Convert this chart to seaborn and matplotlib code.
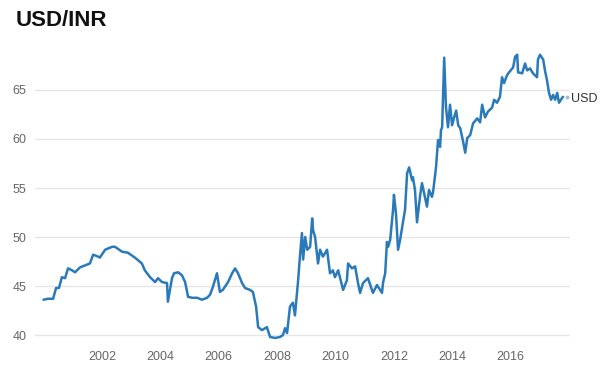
import matplotlib
matplotlib.use("Agg")
import matplotlib.pyplot as plt
import seaborn as sns
import pandas as pd

years = [2000.00, 2000.15, 2000.33, 2000.43, 2000.53, 2000.63, 2000.74, 2000.84, 2000.98,
         2001.08, 2001.25, 2001.42, 2001.59, 2001.70, 2001.87, 2001.93, 2002.11, 2002.35,
         2002.45, 2002.69, 2002.89, 2003.13, 2003.37, 2003.47, 2003.65, 2003.82, 2003.92,
         2004.06, 2004.23, 2004.26, 2004.40, 2004.47, 2004.61, 2004.74, 2004.85, 2004.95,
         2005.09, 2005.26, 2005.43, 2005.60, 2005.70, 2005.80, 2005.94, 2006.04, 2006.14,
         2006.32, 2006.46, 2006.56, 2006.66, 2006.80, 2006.90, 2007.07, 2007.17, 2007.28,
         2007.35, 2007.48, 2007.59, 2007.65, 2007.76, 2007.93, 2008.10, 2008.20, 2008.27,
         2008.34, 2008.44, 2008.54, 2008.61, 2008.72, 2008.78, 2008.85, 2008.89, 2008.96,
         2009.03, 2009.13, 2009.20, 2009.23, 2009.30, 2009.40, 2009.47, 2009.57, 2009.71,
         2009.81, 2009.91, 2009.98, 2010.09, 2010.26, 2010.39, 2010.43, 2010.56, 2010.67,
         2010.77, 2010.84, 2010.94, 2011.11, 2011.28, 2011.42, 2011.59, 2011.63, 2011.70,
         2011.76, 2011.80, 2011.87, 2011.97, 2012.00, 2012.07, 2012.14, 2012.21, 2012.28,
         2012.38, 2012.45, 2012.52, 2012.62, 2012.65, 2012.72, 2012.79, 2012.89, 2012.96,
         2013.06, 2013.13, 2013.20, 2013.30, 2013.34, 2013.44, 2013.51, 2013.58, 2013.61,
         2013.65, 2013.72, 2013.78, 2013.85, 2013.92, 2013.99, 2014.06, 2014.13, 2014.20,
         2014.27, 2014.37, 2014.44, 2014.51, 2014.61, 2014.71, 2014.85, 2014.95, 2015.02,
         2015.12, 2015.22, 2015.36, 2015.43, 2015.53, 2015.63, 2015.70, 2015.77, 2015.87,
         2015.94, 2016.08, 2016.15, 2016.22, 2016.25, 2016.39, 2016.49, 2016.56, 2016.66,
         2016.76, 2016.90, 2016.93, 2017.00, 2017.11, 2017.17, 2017.24, 2017.31, 2017.38,
         2017.45, 2017.52, 2017.59, 2017.65, 2017.76, 2017.79]

usd_inr = [43.6, 43.7, 43.7, 44.8, 44.8, 45.9, 45.8, 46.8, 46.6,
           46.4, 46.9, 47.1, 47.3, 48.2, 48.0, 47.9, 48.7, 49.0,
           49.0, 48.5, 48.4, 47.9, 47.3, 46.6, 45.9, 45.4, 45.8,
           45.4, 45.3, 43.4, 45.8, 46.3, 46.4, 46.1, 45.4, 43.9,
           43.8, 43.8, 43.6, 43.8, 44.1, 44.9, 46.3, 44.4, 44.6,
           45.4, 46.3, 46.8, 46.3, 45.3, 44.8, 44.6, 44.4, 42.9,
           40.8, 40.5, 40.7, 40.8, 39.8, 39.7, 39.8, 40.0, 40.7,
           40.2, 42.9, 43.3, 42.0, 45.6, 48.0, 50.4, 47.7, 50.0,
           48.7, 49.0, 51.9, 50.7, 50.0, 47.3, 48.7, 48.0, 48.7,
           46.3, 46.6, 45.9, 46.6, 44.6, 45.6, 47.3, 46.8, 47.0,
           45.3, 44.3, 45.3, 45.8, 44.3, 45.1, 44.3, 45.4, 46.3,
           49.5, 49.0, 49.7, 52.8, 54.3, 52.4, 48.7, 49.7, 51.0,
           52.8, 56.5, 57.1, 55.8, 56.1, 54.8, 51.5, 54.1, 55.5,
           54.1, 53.1, 54.8, 54.1, 54.6, 57.1, 59.9, 59.2, 60.9,
           61.2, 68.3, 63.3, 61.2, 63.5, 61.4, 62.2, 62.9, 61.4,
           61.1, 59.7, 58.6, 60.1, 60.4, 61.6, 62.1, 61.7, 63.5,
           62.2, 62.8, 63.2, 64.0, 63.7, 64.3, 66.3, 65.7, 66.5,
           66.8, 67.3, 68.4, 68.6, 66.8, 66.7, 67.7, 67.0, 67.2,
           66.7, 66.3, 68.1, 68.6, 68.1, 67.0, 66.0, 64.7, 64.0,
           64.5, 64.0, 64.7, 63.7, 64.2, 64.3]

x_ticks = [2002, 2004, 2006, 2008, 2010, 2012, 2014, 2016]
x_tick_labels = ["2002", "2004", "2006", "2008", "2010", "2012", "2014", "2016"]
y_ticks = [40, 45, 50, 55, 60, 65]
y_tick_labels = ["40", "45", "50", "55", "60", "65"]
title = "USD/INR"
series_label = "USD"

sns.set_theme(style="white")
plt.rcParams["font.family"] = ["Liberation Sans", "DejaVu Sans"]

df = pd.DataFrame({"year": years, "rate": usd_inr})

fig = plt.figure(figsize=(6.11, 3.69), dpi=100)
ax = fig.add_axes([0.0573, 0.065, 0.8757, 0.7995])
line_color = "#2a7ab9"
sns.lineplot(data=df, x="year", y="rate", ax=ax, color=line_color, linewidth=1.8)

ax.set_xlim(1999.71, 2018.03)
ax.set_ylim(38.98, 69.08)
ax.set_xticks(x_ticks)
ax.set_xticklabels(x_tick_labels)
ax.set_yticks(y_ticks)
ax.set_yticklabels(y_tick_labels)
ax.tick_params(axis="both", length=0, labelsize=9, labelcolor="#666666")
ax.tick_params(axis="x", pad=4)
ax.tick_params(axis="y", pad=6)
ax.grid(axis="y", color="#e6e6e6", linewidth=1)
ax.grid(axis="x", visible=False)
for s in ax.spines.values():
    s.set_visible(False)
ax.set_xlabel("")
ax.set_ylabel("")

last_x, last_y = years[-1], usd_inr[-1]
ax.plot([last_x + 0.14], [last_y], marker="o", markersize=1.8, color="#9bbcd6", clip_on=False)
ax.annotate(series_label, xy=(last_x, last_y), xytext=(6, -1.5), textcoords="offset points",
            va="center", ha="left", fontsize=9, color="#333333", annotation_clip=False)

fig.text(16 / 611, 1 - 20 / 369, title, fontsize=16, fontweight="bold", color="#111111",
         ha="left", va="center")

fig.savefig("out.png", dpi=100)
